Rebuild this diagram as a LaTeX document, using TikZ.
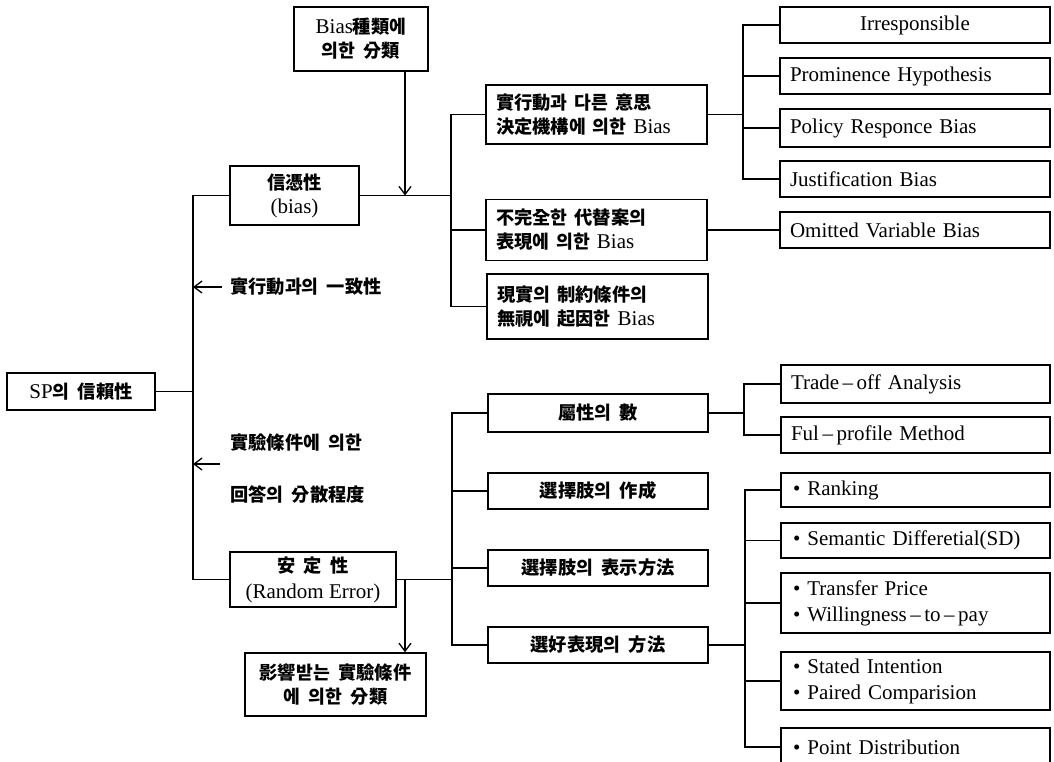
\documentclass[tikz,border=0pt]{standalone}
\usepackage{fontspec}
\setmainfont{Liberation Serif}
\newfontfamily\krfont[Scale=0.87,WordSpace=2]{Noto Sans CJK KR}
\newcommand\K[1]{{\krfont\bfseries #1}}
\usetikzlibrary{arrows.meta}
\begin{document}
\begin{tikzpicture}[x=1pt,y=-1pt,
  box/.style={draw, line width=1.5pt, inner ysep=0pt, inner xsep=0pt,
    font=\fontsize{21}{24}\selectfont, align=center},
  lbox/.style={box, inner xsep=10pt, align=left},
  bbox/.style={box, inner xsep=12pt, align=left},
  two/.style={font=\fontsize{21}{26}\selectfont},
  conn/.style={line width=1.5pt},
  arr/.style={line width=1.5pt, -{Straight Barb[length=8pt,width=12pt,line width=1.3pt]}},
  lbl/.style={inner sep=0pt, anchor=west, font=\fontsize{21}{24}\selectfont}]
\path[use as bounding box, clip] (0,0) rectangle (1054,761);
\fill[white] (0,0) rectangle (1054,761);

% left part
\node[box, minimum width=134, minimum height=64] (bk) at (361,39) {Bias\K{種類에}\\\K{의한 分類}};
\node[box, minimum width=129, minimum height=59] (cred) at (294.5,195.5) {\K{信憑性}\\(bias)};
\node[box, minimum width=148, minimum height=37] (sp) at (81,391.5) {SP\K{의 信賴性}};
\node[box, two, minimum width=166, minimum height=55] (stab) at (313,579.5) {\K{安\hspace{8pt}定\hspace{8pt}性}\\(Random Error)};
\node[box, minimum width=181, minimum height=63] (infl) at (335.5,684.5) {\K{影響받는 實驗條件}\\\K{에 의한 分類}};

\node[lbl] (a1) at (230,287) {\K{實行動과의 一致性}};
\node[lbl] (a2) at (230,443) {\K{實驗條件에 의한}};
\node[lbl] (a3) at (230,494) {\K{回答의 分散程度}};

% upper middle
\node[lbox, text width=201, minimum height=59] (m1) at (596.5,114.5) {\K{實行動과 다른 意思}\\\K{決定機構에 의한} Bias};
\node[lbox, text width=201, minimum height=61] (m2) at (596.5,230) {\K{不完全한 代替案의}\\\K{表現에 의한} Bias};
\node[lbox, text width=201, minimum height=65] (m3) at (597.5,306.5) {\K{現實의 制約條件의}\\\K{無視에 起因한} Bias};

% upper right
\node[box, minimum width=270, minimum height=36] (r1) at (915,25) {Irresponsible};
\node[lbox, text width=250, minimum height=36] (r2) at (915,76) {Prominence Hypothesis};
\node[lbox, text width=250, minimum height=38] (r3) at (915,128) {Policy Responce Bias};
\node[lbox, text width=250, minimum height=36] (r4) at (915,179) {Justification Bias};
\node[lbox, text width=250, minimum height=36] (r5) at (915,230) {Omitted Variable Bias};

% lower middle
\node[box, minimum width=220, minimum height=38] (l1) at (598,413) {\K{屬性의 數}};
\node[box, minimum width=220, minimum height=36] (l2) at (598,491) {\K{選擇肢의 作成}};
\node[box, minimum width=220, minimum height=36] (l3) at (598,568) {\K{選擇肢의 表示方法}};
\node[box, minimum width=220, minimum height=36] (l4) at (598,645) {\K{選好表現의 方法}};

% lower right
\node[lbox, text width=249, minimum height=38] (t1) at (915.5,384) {Trade\,–\,off Analysis};
\node[lbox, text width=249, minimum height=36] (t2) at (915.5,435) {Ful\,–\,profile Method};
\node[bbox, text width=245, minimum height=34] (p1) at (915.5,490) {• Ranking};
\node[bbox, text width=245, minimum height=35] (p2) at (915.5,540.5) {• Semantic Differetial(SD)};
\node[bbox, two, text width=245, minimum height=60] (p3) at (915.5,603) {• Transfer Price\\• Willingness\,–\,to\,–\,pay};
\node[bbox, two, text width=245, minimum height=58] (p4) at (915.5,681) {• Stated Intention\\• Paired Comparision};
\node[bbox, text width=245, minimum height=38] (p5) at (915.5,747) {• Point Distribution};

% bracket x positions
\coordinate (sx) at (193,0);
\coordinate (ax) at (405,0);
\coordinate (ux) at (451,0);
\coordinate (lx) at (452,0);
\coordinate (rx) at (743,0);
\coordinate (tx) at (744,0);
\coordinate (px) at (745,0);

% spine
\draw[conn] (sp.east) -- (sp.east -| sx);
\draw[conn] (cred.west) -- (cred.west -| sx) -- (stab.west -| sx) -- (stab.west);
\draw[arr] ([xshift=-8pt]a1.west) -- (a1.west -| sx);
\coordinate (a23) at (220,464);
\draw[arr] (a23) -- (a23 -| sx);

% upper
\draw[conn] (cred.east) -- (cred.east -| ux);
\draw[arr] (bk.south -| ax) -- (cred.east -| ax);
\draw[conn] (m1.west) -- (m1.west -| ux) -- (m3.west -| ux) -- (m3.west);
\draw[conn] (m2.west) -- (m2.west -| ux);
\draw[conn] (m1.east) -- (m1.east -| rx);
\draw[conn] (r1.west) -- (r1.west -| rx) -- (r4.west -| rx) -- (r4.west);
\draw[conn] (r2.west) -- (r2.west -| rx);
\draw[conn] (r3.west) -- (r3.west -| rx);
\draw[conn] (m2.east) -- (r5.west);

% lower
\draw[conn] (stab.east) -- (stab.east -| lx);
\draw[arr] (stab.east -| ax) -- (infl.north -| ax);
\draw[conn] (l1.west) -- (l1.west -| lx) -- (l4.west -| lx) -- (l4.west);
\draw[conn] (l2.west) -- (l2.west -| lx);
\draw[conn] (l3.west) -- (l3.west -| lx);
\draw[conn] (l1.east) -- (l1.east -| tx);
\draw[conn] (t1.west) -- (t1.west -| tx) -- (t2.west -| tx) -- (t2.west);
\draw[conn] (l4.east) -- (l4.east -| px);
\draw[conn] (p1.west) -- (p1.west -| px) -- (p5.west -| px) -- (p5.west);
\draw[conn] (p2.west) -- (p2.west -| px);
\draw[conn] (p3.west) -- (p3.west -| px);
\draw[conn] (p4.west) -- (p4.west -| px);
\end{tikzpicture}
\end{document}
